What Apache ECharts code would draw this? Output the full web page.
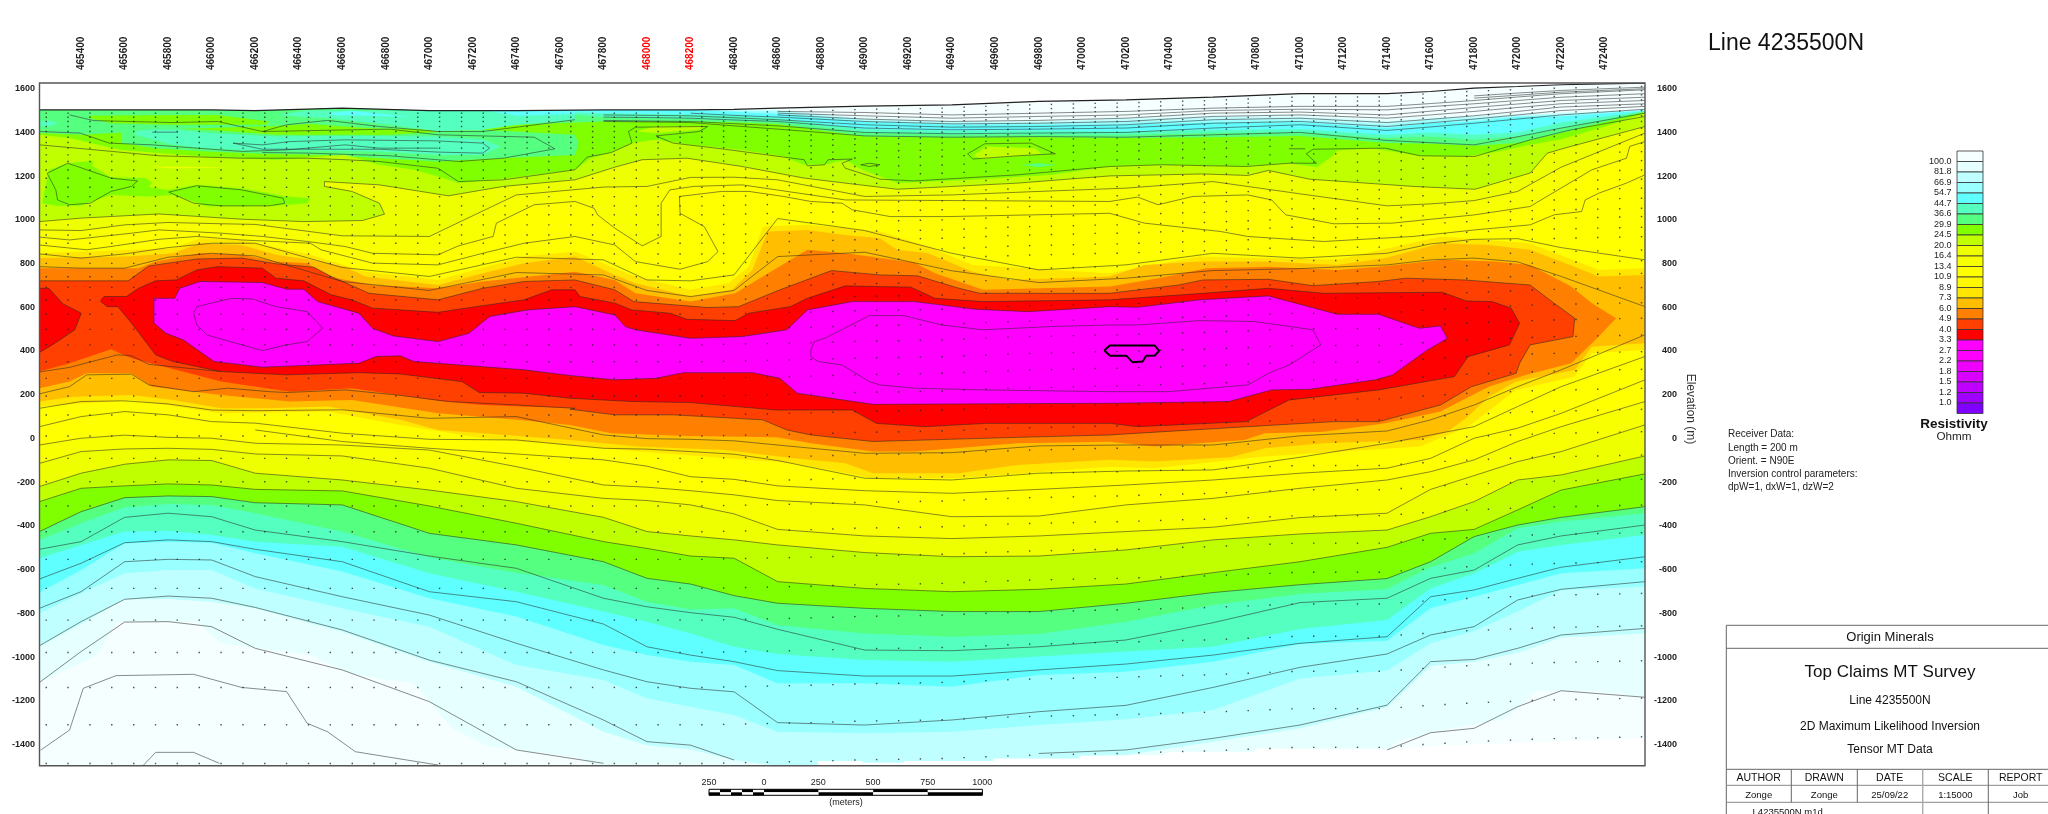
<!DOCTYPE html>
<html>
<head>
<meta charset="utf-8">
<script src="https://cdn.jsdelivr.net/npm/echarts@6/dist/echarts.min.js"></script>
<style>html,body{margin:0;background:#fff}#main{width:2048px;height:814px}</style>
</head>
<body>
<div id="main"></div>
<script>
// eastings (m) of the shared profile columns, elevations (m) below
var columns = [465209,465400,465600,465800,466000,466200,466600,467000,467400,467800,468000,468200,468400,468600,469000,469400,469800,470200,470600,471000,471400,471600,471800,472000,472200,472585];
var eastTicks = [465400,465600,465800,466000,466200,466400,466600,466800,467000,467200,467400,467600,467800,468000,468200,468400,468600,468800,469000,469200,469400,469600,469800,470000,470200,470400,470600,470800,471000,471200,471400,471600,471800,472000,472200,472400];
var redTicks = [468000,468200];
var elevTicks = [1600,1400,1200,1000,800,600,400,200,0,-200,-400,-600,-800,-1000,-1200,-1400];

// upper layers, top of each colour band
var topo  = [1503,1503,1503,1503,1503,1500,1511,1500,1500,1503,1503,1503,1505,1511,1520,1526,1542,1549,1561,1577,1577,1587,1603,1610,1618,1625];
var top82 = [1503,1503,1503,1503,1503,1500,1511,1500,1500,1503,1503,1503,1503,1506,1470,1458,1458,1473,1482,1482,1465,1473,1480,1488,1496,1506];
var top67 = [1503,1503,1503,1503,1503,1500,1511,1500,1500,1503,1503,1503,1503,1502,1461,1450,1450,1461,1470,1470,1450,1465,1473,1480,1488,1503];
var top55 = [1503,1503,1503,1503,1503,1500,1511,1500,1500,1503,1503,1503,1500,1496,1455,1442,1442,1450,1458,1458,1435,1458,1465,1474,1482,1502];
var top45 = [1503,1503,1503,1503,1503,1500,1511,1500,1500,1503,1503,1502,1494,1484,1448,1435,1435,1435,1445,1445,1420,1442,1450,1470,1473,1500];
var top37 = [1503,1503,1503,1503,1503,1500,1511,1500,1500,1488,1484,1482,1476,1465,1415,1407,1409,1404,1412,1415,1389,1400,1389,1400,1445,1498];
var top30 = [1503,1503,1503,1503,1503,1500,1511,1500,1500,1470,1465,1461,1455,1450,1400,1390,1390,1389,1397,1400,1374,1381,1366,1381,1420,1497];
var top25 = [1397,1389,1400,1415,1420,1427,1420,1415,1435,1450,1450,1450,1445,1438,1381,1377,1378,1374,1378,1384,1351,1348,1339,1351,1397,1493];
var limeTop = [[465209,1389],[465347,1374],[465584,1320],[465980,1287],[466296,1275],[466613,1297],[466771,1252],[466929,1229],[467040,1198],[467134,1168],[467372,1191],[467669,1229],[467741,1282],[467836,1308],[467931,1351],[468041,1366],[468200,1343],[468437,1320],[468627,1290],[468722,1252],[468816,1252],[468911,1274],[468990,1229],[469149,1168],[469497,1183],[469860,1206],[470126,1244],[470364,1252],[470752,1244],[470950,1259],[471076,1241],[471147,1290],[471171,1317],[471329,1328],[471551,1293],[471756,1290],[471914,1313],[472057,1343],[472199,1369],[472373,1419],[472585,1488]];

// contour lines of the upper half
var limeLine = [[465209,1343],[465379,1328],[465758,1293],[466138,1282],[466439,1282],[466613,1275],[466771,1267],[467040,1236],[467134,1175],[467340,1183],[467669,1229],[467725,1287],[467836,1308],[467931,1351],[467915,1404],[467947,1424],[468279,1427],[468239,1404],[468041,1384],[468120,1351],[468358,1323],[468627,1287],[468722,1275],[468737,1247],[468816,1252],[468832,1275],[468943,1278],[468896,1259],[468911,1236],[469070,1186],[469228,1178],[469702,1206],[470126,1244],[470364,1252],[470752,1244],[470950,1259],[471076,1259],[471029,1302],[471060,1323],[471392,1328],[471551,1293],[471804,1290],[472057,1366],[472246,1412],[472585,1473]];
var line16 = [[465209,992],[465401,1008],[465758,1027],[466138,1003],[466423,992],[466692,997],[466794,1026],[466771,1076],[466644,1130],[466518,1153],[466518,1175],[466771,1160],[467087,1110],[467340,1153],[467669,1183],[467852,1241],[467978,1275],[468184,1282],[468437,1244],[468722,1191],[468911,1168],[469149,1140],[469702,1168],[470126,1201],[470554,1210],[470760,1203],[470855,1226],[471044,1186],[471519,1153],[471804,1140],[472057,1214],[472136,1305],[472215,1328],[472585,1427]];
var line13 = [954,951,977,988,983,979,927,924,1114,1150,1153,1194,1195,1183,1107,1114,1130,1145,1175,1119,1064,1073,1088,1130,1241,1397];
var line11 = [[465209,921],[465347,908],[465632,939],[465758,954],[466043,939],[466233,924],[466439,901],[466613,878],[466739,847],[467040,840],[467134,881],[467293,924],[467308,985],[467482,1069],[467669,1084],[467757,1053],[467773,1023],[467852,962],[467978,881],[468065,924],[468065,1076],[468105,1137],[468215,1153],[468437,1160],[468595,1137],[468753,1114],[468911,1091],[470126,1084],[470254,1104],[470348,1069],[470507,1107],[470760,1114],[470870,1091],[470934,1023],[471155,982],[471424,985],[471804,1023],[472057,1061],[472341,1229],[472500,1282],[472515,1336],[472585,1358]];
var line9 = [[465209,885],[465426,863],[465537,878],[465758,911],[465932,924],[466138,908],[466454,893],[466502,863],[466739,802],[467040,794],[467245,847],[467435,893],[467669,924],[467852,885],[467947,809],[468152,774],[468279,809],[468326,855],[468263,969],[468152,1030],[468149,1107],[468342,1130],[468468,1130],[468627,1107],[468753,1084],[468896,1076],[468943,1046],[469117,1015],[469386,1015],[470126,1030],[470285,985],[470633,947],[470760,924],[471108,901],[471519,924],[471804,954],[472057,977],[472167,1023],[472294,1038],[472310,1091],[472373,1122],[472500,1168],[472585,1206]];
var line8 = [844,825,844,873,893,893,782,741,829,817,725,721,748,1006,951,847,771,794,847,825,847,890,911,914,873,817];
var line7 = [786,779,779,829,847,835,718,677,759,748,677,649,677,832,852,767,713,733,768,777,794,817,825,808,741,603];
var ln1 = [null,null,null,null,null,null,null,null,null,null,null,null,null,1496,1491,1480,1488,1496,1511,1519,1519,1532,1546,1562,1577,1595];
var ln2 = [null,null,null,null,null,null,null,null,null,null,null,null,null,1488,1476,1465,1473,1480,1500,1506,1503,1518,1531,1546,1561,1577];
var ln3 = [null,null,null,null,null,null,null,null,null,null,null,null,null,1480,1461,1450,1455,1465,1488,1493,1480,1497,1514,1530,1546,1561];
var ln4 = [null,null,null,null,null,null,null,null,null,null,null,1488,1478,1470,1450,1439,1442,1450,1473,1480,1465,1480,1496,1514,1531,1546];
var ln5 = [null,null,null,null,null,null,null,null,null,1480,1478,1476,1467,1458,1435,1424,1427,1435,1458,1465,1445,1460,1476,1496,1516,1531];
var ln6 = [null,null,null,null,null,null,null,null,null,1470,1468,1465,1457,1450,1420,1412,1415,1420,1442,1450,1427,1444,1461,1480,1500,1519];
var ln7 = [null,null,null,null,null,null,null,null,null,1455,1452,1450,1440,1430,1400,1394,1397,1400,1420,1435,1409,1425,1442,1461,1480,1506];
var ln8 = [null,null,null,null,null,null,null,null,null,1450,1448,1445,1430,1415,1384,1378,1381,1378,1389,1400,1363,1353,1343,1380,1420,1488];
var ln9 = [null,null,null,null,null,null,null,null,null,null,null,null,null,null,null,null,null,null,null,null,null,null,1567,1580,1592,1607];
var ln10 = [null,null,null,null,null,null,null,null,null,null,null,null,null,null,null,null,null,null,null,null,null,null,1557,1570,1584,1600];
var t1 = [[465347,1480],[465458,1454],[465822,1445],[466027,1450],[466233,1404],[466344,1435],[466533,1455],[466771,1427],[467040,1404],[467245,1404],[467669,1458]];
var t2 = [[465209,1404],[465395,1397],[465529,1351],[465727,1343],[465932,1328],[466138,1313],[466344,1320],[466613,1343],[466771,1328],[467040,1328]];
var t3 = [[466233,1404],[466818,1415],[467040,1389],[467482,1378],[467577,1325],[467340,1282],[467134,1267],[466818,1293],[466454,1305],[466233,1308]];
var t4 = [[466098,1351],[466233,1343],[466359,1358],[466613,1366],[467040,1361],[467245,1351],[467277,1328],[467245,1305],[467040,1310],[466771,1323],[466359,1323],[466233,1323],[466098,1351]];
var t5 = [[465727,1401],[465845,1401]];
var t6 = [[470949,1325],[471024,1325]];
var loop1 = [[465244,1213],[465339,1259],[465537,1191],[465660,1178],[465632,1153],[465537,1130],[465442,1076],[465347,1069],[465292,1091],[465284,1137],[465244,1213]];
var loop2 = [[465803,1127],[465932,1156],[466138,1137],[466328,1099],[466336,1076],[466265,1064],[466043,1064],[465917,1076],[465803,1127]];
var loop3 = [[468982,1252],[469022,1259],[469070,1252],[469022,1244],[468982,1252]];
var loop4 = [[469473,1302],[469552,1348],[469765,1351],[469876,1302],[469702,1293],[469497,1278],[469473,1302]];

// local patches in the upper half
var patchTealLeft = [[465213,1450],[465252,1455],[465300,1442],[465252,1427],[465213,1427]];
var patchGreen1 = [[465442,1476],[465822,1480],[466027,1480],[466265,1450],[466249,1435],[465822,1435],[465537,1442],[465442,1465]];
var patchGreen2 = [[466249,1427],[466454,1439],[466818,1412],[466771,1389],[466613,1397],[466391,1389],[466249,1412]];
var patchRim = [[465584,1412],[465648,1420],[465980,1412],[466296,1389],[466818,1389],[467245,1412],[467669,1389],[467686,1351],[467669,1297],[467324,1282],[467040,1267],[466771,1282],[466533,1297],[466233,1302],[465980,1313],[465743,1328],[465584,1351]];
var patchBlob = [[465648,1404],[465727,1415],[465853,1412],[465980,1397],[466138,1389],[466296,1381],[466454,1384],[466771,1384],[467040,1381],[467245,1369],[467327,1336],[467245,1297],[467040,1297],[466771,1313],[466454,1317],[466170,1317],[465980,1328],[465822,1343],[465648,1389]];
var patchStrip = [[469718,1252],[469797,1259],[469884,1252],[469797,1241]];
var patchTop = [[466439,1500],[467669,1500],[467669,1458],[467403,1435],[467245,1412],[467040,1404],[466818,1435],[466533,1465],[466296,1480]];
var patchCyan1 = [[466533,1488],[466644,1499],[466913,1470],[466739,1476],[466565,1479]];
var patchCyan2 = [[467261,1499],[467669,1499],[467669,1484],[467403,1476]];
var patchStreak = [[465711,1244],[466106,1241],[465822,1235]];
var patchGreen3 = [[465221,1076],[465252,1229],[465339,1259],[465458,1270],[465450,1247],[465537,1195],[465695,1191],[465727,1171],[465711,1150],[465798,1137],[465932,1160],[466138,1145],[466344,1107],[466454,1099],[466439,1076],[466296,1064],[465980,1061],[465822,1114],[465711,1107],[465537,1114],[465395,1064],[465284,1064]];
var patchLime1 = [[467946,1404],[468041,1427],[468263,1427],[468239,1412],[468041,1397]];
var patchLime2 = [[469497,1293],[469560,1336],[469781,1328],[469813,1302],[469544,1278]];

// conductive body, outer to inner
var band89 = [[465209,847],[465822,870],[465948,916],[466138,908],[466454,840],[466707,763],[467040,725],[467435,832],[467669,855],[467852,779],[467947,741],[468200,680],[468374,710],[468468,786],[468532,969],[468737,977],[469070,947],[469291,878],[469497,794],[470126,756],[470538,832],[471171,817],[471645,924],[472057,893],[472373,771],[472585,779],[472585,405],[472341,390],[472262,283],[471993,222],[471772,54],[471551,-37],[470839,-83],[470333,-136],[470126,-129],[469433,-182],[469038,-182],[468674,-114],[467962,-60],[467646,-30],[467245,1],[466866,62],[466533,123],[466043,115],[465632,176],[465209,146]];
var band73 = [[465209,825],[465616,832],[465822,847],[465948,893],[466138,885],[466296,840],[466454,817],[466613,786],[466707,741],[467040,702],[467245,756],[467435,802],[467669,832],[467852,748],[467947,710],[468200,649],[468389,680],[468484,771],[468555,947],[468737,954],[468911,931],[469070,916],[469149,863],[469291,847],[469497,763],[469670,725],[470126,741],[470285,794],[470538,809],[470855,809],[471171,794],[471392,825],[471645,893],[471867,885],[472057,863],[472262,786],[472373,741],[472585,748],[472585,435],[472341,420],[472262,313],[471993,260],[471867,191],[471772,100],[471677,31],[471551,-7],[471108,-22],[470839,-45],[470681,-86],[470333,-106],[470127,-98],[469702,-121],[469433,-159],[469038,-159],[468911,-114],[468674,-91],[468358,-53],[467962,-37],[467646,-7],[467245,24],[467040,39],[466866,85],[466533,146],[466265,138],[466043,138],[465822,176],[465632,199],[465363,191],[465209,169]];
var band60 = [[465209,779],[465664,779],[465743,809],[465948,847],[466138,840],[466296,809],[466439,802],[466533,741],[466739,702],[467040,687],[467245,718],[467669,763],[467852,725],[467947,664],[468200,626],[468405,664],[468532,741],[468737,863],[468911,847],[469228,805],[469323,756],[469544,680],[470126,695],[470348,733],[470570,779],[470855,786],[471171,771],[471361,786],[471661,817],[471898,809],[472057,794],[472246,695],[472341,619],[472452,550],[472373,466],[472246,344],[472041,291],[471867,237],[471645,123],[471392,69],[471108,31],[470839,24],[470744,-7],[470333,-37],[470127,-15],[469702,-22],[469228,-60],[469038,-60],[468753,-22],[468595,5],[468184,11],[467836,24],[467646,62],[467403,85],[467040,115],[466644,176],[466359,169],[466043,199],[465727,237],[465632,298],[465426,298],[465347,260],[465209,230]];
var band49Top = [[465209,721],[465616,721],[465711,789],[465932,821],[466138,825],[466296,799],[466470,783],[466549,741],[466723,664],[467040,634],[467245,687],[467435,718],[467669,725],[467852,680],[467939,626],[468279,599],[468421,603],[468611,680],[468848,768],[469070,748],[469243,744],[469433,687],[469528,664],[470126,664],[470443,702],[470554,725],[470855,728],[471060,699],[471361,718],[471487,733],[471756,725],[472057,702],[472167,619],[472262,550],[472254,466],[472057,428],[472009,344],[471993,298],[471788,237],[471645,153],[471361,77],[471155,77],[470760,54],[470254,24],[470127,16],[469702,5],[469038,-14],[468753,16],[468642,39],[468532,85],[468120,108],[467852,108],[467646,134]];
var band49Left = [[467669,138],[467245,153],[467040,173],[466644,230],[466359,214],[466043,260],[465632,367],[465537,408],[465347,344],[465209,306]];
var line49Left = [[467669,138],[467403,153],[467087,169],[466850,199],[466613,222],[466344,210],[466265,214],[466075,230],[465917,214],[465711,245],[465632,294],[465426,291],[465347,237],[465209,204]];
var line40Left = [[466043,306],[465711,339],[465632,378],[465569,383],[465347,325],[465209,304]];
var band40 = [[465490,631],[465505,649],[465608,649],[465664,687],[465743,721],[465837,725],[465932,771],[466027,786],[466233,779],[466296,733],[466423,721],[466549,657],[466644,634],[466739,596],[467040,577],[467214,603],[467435,634],[467562,680],[467669,680],[467693,649],[467852,619],[467931,588],[468105,573],[468184,545],[468405,539],[468468,573],[468658,603],[468737,641],[468911,698],[469212,692],[469323,641],[469544,626],[470126,634],[470554,664],[470855,687],[471108,664],[471653,669],[471764,629],[471883,626],[471970,596],[472009,527],[471962,428],[471772,374],[471709,283],[471361,222],[470950,176],[470752,77],[470254,54],[470127,69],[469560,69],[469275,54],[469054,69],[468943,130],[468595,130],[468200,164],[467931,169],[467646,184],[467435,207],[467229,210],[467150,260],[466866,295],[466676,301],[466344,291],[466043,306],[465822,352],[465743,382],[465632,527],[465569,603],[465521,603],[465490,626]];
var band40Edge = [[465209,687],[465252,687],[465316,616],[465401,573],[465371,497],[465268,428],[465209,393]];
var band33 = [[465735,641],[465830,641],[465853,687],[465948,718],[466233,713],[466344,683],[466423,683],[466486,626],[466676,573],[466739,504],[466834,469],[467040,443],[467182,481],[467277,558],[467451,588],[467669,603],[467852,565],[467899,512],[467947,497],[468200,458],[468437,466],[468642,497],[468737,588],[468943,626],[469228,626],[469512,591],[469750,580],[470126,603],[470254,600],[470538,634],[470855,652],[471171,568],[471361,568],[471503,519],[471551,504],[471645,515],[471677,458],[471582,402],[471424,290],[471345,268],[471044,225],[470870,222],[470673,169],[470127,161],[469038,156],[468690,207],[468611,275],[468484,301],[468168,301],[468041,275],[467852,268],[467646,288],[467435,314],[466929,352],[466866,378],[466755,375],[466676,344],[466233,326],[466011,352],[465869,451],[465790,481],[465735,527],[465735,641]];
var inner1 = [[465917,573],[465932,603],[466027,626],[466091,641],[466186,638],[466296,603],[466439,580],[466510,504],[466439,443],[466344,428],[466233,402],[466138,428],[465980,473],[465932,519],[465917,573]];
var inner2 = [[468753,405],[468769,443],[468816,458],[469022,562],[469180,562],[469354,519],[469544,497],[469860,512],[470126,519],[470254,519],[470538,539],[470791,535],[471060,497],[471095,428],[470950,336],[470855,298],[470760,245],[470396,214],[470127,214],[469544,222],[469228,230],[469070,245],[469022,260],[468896,336],[468785,352],[468753,375],[468753,405]];
var blackBlob = [[470101,402],[470126,425],[470333,425],[470353,401],[470333,379],[470293,378],[470277,352],[470230,349],[470203,378],[470127,378],[470101,402]];

// lower half contour lines
var lo0 = [138,169,172,158,130,127,131,92,100,16,-1,-4,-11,-30,-68,-65,-34,-30,-30,12,34,85,153,237,314,474];
var lo1 = [54,100,123,108,77,70,24,-4,-7,-45,-49,-60,-72,-101,-182,-190,-159,-149,-144,-86,-22,16,54,146,237,375];
var lo2 = [null,null,null,null,null,39,-14,-45,-71,-98,-127,-175,-187,-217,-239,-251,-233,-213,-190,-159,-136,-91,1,47,115,268];
var lo3 = [-30,1,15,5,1,-22,-30,-53,-129,-213,-223,-239,-258,-284,-304,-358,-355,-304,-274,-228,-190,-152,-98,-14,54,169];
var lo4 = [-114,-60,-48,-45,-50,-71,-80,-136,-228,-274,-284,-304,-345,-416,-446,-458,-446,-426,-406,-362,-342,-233,-170,-106,-60,62];
var lo5 = [-220,-159,-118,-98,-101,-159,-190,-236,-289,-361,-426,-446,-464,-487,-522,-541,-538,-510,-464,-437,-419,-358,-289,-190,-167,-80];
var lo6 = [-289,-228,-217,-208,-213,-233,-240,-309,-388,-472,-503,-538,-548,-655,-686,-701,-690,-666,-614,-564,-498,-434,-416,-327,-236,-162];
var lo7 = [-426,-335,-271,-263,-266,-294,-304,-434,-487,-564,-640,-666,-719,-754,-777,-792,-792,-754,-705,-669,-641,-564,-449,-396,-361,-312];
var lo8 = [-507,-472,-361,-342,-358,-419,-472,-538,-594,-731,-770,-797,-818,-873,-968,-971,-953,-922,-843,-751,-731,-640,-602,-487,-446,-396];
var lo9 = [-643,-571,-477,-464,-472,-507,-564,-701,-747,-849,-953,-991,-1021,-1062,-1087,-1087,-1059,-1032,-991,-937,-907,-724,-693,-640,-589,-541];
var lo10 = [-777,-701,-564,-553,-556,-632,-724,-808,-937,-1059,-1113,-1143,-1159,-1300,-1311,-1288,-1250,-1221,-1139,-1047,-986,-899,-861,-739,-690,-655];
var lo11 = [-948,-838,-736,-721,-731,-773,-876,-1014,-1113,-1288,-1387,-1403,-1471,null,null,null,-1441,-1425,-1372,-1311,-1220,-1021,-1011,-960,-899,-869];
var lo12 = [-1116,-975,-840,-838,-861,-960,-1059,-1204,-1425,-1486,null,null,null,null,null,null,null,null,null,null,-1425,-1346,-1326,-1227,-1154,-1184];
var loK = [[465214,-1426],[465347,-1334],[465410,-1143],[465561,-1085],[465917,-1079],[466138,-1139],[466344,-1158],[466439,-1303],[466533,-1342],[466660,-1433],[467040,-1494]];
var loS = [[465687,-1494],[465743,-1436],[465917,-1436],[466035,-1486]];

// lower half, top of each colour band
var low37 = [-464,-388,-315,-300,-304,-342,-426,-544,-614,-670,-747,-782,-777,-853,-892,-907,-895,-838,-762,-712,-689,-589,-525,-411,-380,-342];
var low45 = [-548,-487,-426,-422,-442,-472,-495,-617,-701,-792,-838,-892,-953,-986,-1014,-1021,-998,-975,-953,-872,-831,-686,-617,-518,-487,-442];
var low55 = [-704,-602,-480,-472,-477,-525,-609,-731,-815,-945,-991,-1021,-1036,-1120,-1120,-1136,-1082,-1067,-1021,-940,-925,-777,-724,-670,-617,-594];
var low67 = [-800,-708,-617,-602,-602,-686,-777,-861,-1036,-1105,-1189,-1227,-1265,-1342,-1349,-1342,-1311,-1285,-1242,-1098,-1062,-937,-881,-792,-693,-678];
var low82 = [-953,-849,-736,-734,-747,-777,-884,-1021,-1136,-1342,-1403,-1422,-1471,-1497,-1497,-1497,-1497,-1448,-1387,-1326,-1230,-1041,-1021,-980,-910,-892];
var low100Left = [[465209,-1116],[465474,-991],[465561,-840],[465932,-838],[466043,-937],[466454,-991],[466644,-1079],[466929,-1120],[467103,-1326],[467277,-1410],[467669,-1456],[467757,-1494],[467757,-1497],[465209,-1497]];
var low100Right = [[471408,-1418],[471456,-1383],[471645,-1337],[471946,-1281],[472088,-1154],[472341,-1154],[472585,-1184],[472585,-1497],[471408,-1497]];
var meshBottom = [[468690,-1497],[468785,-1497],[468785,-1476],[468990,-1476],[468990,-1484],[469180,-1484],[469180,-1476],[469591,-1476],[469591,-1464],[469987,-1464],[469987,-1451],[470364,-1448],[470412,-1433],[470791,-1433],[470799,-1418],[471408,-1422],[471709,-1403],[472585,-1372],[472585,-1497]];

// inversion mesh: surface under each station, node depths below it
var stationE = [465240,465340,465441,465541,465642,465742,465842,465943,466043,466144,466244,466344,466445,466545,466646,466746,466846,466947,467047,467148,467248,467348,467449,467549,467650,467750,467850,467951,468051,468152,468252,468352,468453,468553,468654,468754,468854,468955,469055,469156,469256,469356,469457,469557,469658,469758,469858,469959,470059,470160,470260,470360,470461,470561,470662,470762,470862,470963,471063,471164,471264,471364,471465,471565,471666,471766,471866,471967,472067,472168,472268,472368,472469,472569];
var stationTop = [1503,1503,1503,1503,1503,1503,1503,1503,1503,1503,1503,1503,1503,1503,1503,1503,1503,1503,1503,1503,1503,1503,1503,1503,1503,1503,1503,1503,1503,1503,1503,1505,1507,1509,1511,1513,1516,1519,1521,1522,1524,1526,1530,1534,1538,1541,1543,1545,1548,1549,1552,1555,1558,1560,1564,1568,1572,1576,1577,1577,1577,1577,1583,1590,1596,1602,1606,1610,1614,1617,1619,1621,1623,1625];
var nodeDepth = [15,34,53,76,99,125,149,175,206,236,275,313,354,397,439,480,526,572,610,659,702,763,812,870,935,1004,1075,1152,1228,1309,1396,1492,1594,1701,1812,1930,2056,2189,2334,2482,2642,2813,2990];

// resistivity scale
var legendLabels = ['100.0','81.8','66.9','54.7','44.7','36.6','29.9','24.5','20.0','16.4','13.4','10.9','8.9','7.3','6.0','4.9','4.0','3.3','2.7','2.2','1.8','1.5','1.2','1.0'];
var legendColors = ['#F5FFFF','#E6FFFF','#BFFFFF','#99FFFF','#5FFFFF','#55FFC0','#55FF7F','#7FFF00','#BFFF00','#EEFF00','#F8FF00','#FFFF00','#FFF800','#FFE600','#FFBF00','#FF7F00','#FF4000','#FF0000','#FF00FF','#FF00FF','#F000FF','#D800FF','#BF00FF','#A000FF','#7F00FF'];

var XMIN = 465209, XMAX = 472585, YMIN = -1497, YMAX = 1626;

function zip(values) {
    return values.map(function (v, i) { return [columns[i], v]; });
}
function below(curve) {
    return curve.concat([[XMAX, YMIN], [XMIN, YMIN]]);
}

// painter's order: every polygon covers what came before it
var fills = [
    { c: '#F5FFFF', p: below(zip(topo)) },
    { c: '#E6FFFF', p: below(zip(top82)) },
    { c: '#BFFFFF', p: below(zip(top67)) },
    { c: '#99FFFF', p: below(zip(top55)) },
    { c: '#5FFFFF', p: below(zip(top45)) },
    { c: '#55FFC0', p: below(zip(top37)) },
    { c: '#55FF7F', p: below(zip(top30)) },
    { c: '#7FFF00', p: below(zip(top25)) },
    { c: '#55FF7F', p: patchRim },
    { c: '#55FFC0', p: patchBlob },
    { c: '#55FFC0', p: patchTealLeft },
    { c: '#55FFC0', p: patchTop },
    { c: '#7FFF00', p: patchGreen1 },
    { c: '#7FFF00', p: patchGreen2 },
    { c: '#5FFFFF', p: patchCyan1 },
    { c: '#5FFFFF', p: patchCyan2 },
    { c: '#55FF7F', p: patchStrip },
    { c: '#BFFF00', p: below(limeTop) },
    { c: '#BFFF00', p: patchLime1 },
    { c: '#BFFF00', p: patchLime2 },
    { c: '#7FFF00', p: patchGreen3 },
    { c: '#EEFF00', p: patchStreak },
    { c: '#EEFF00', p: below(line16) },
    { c: '#F8FF00', p: below(zip(line13)) },
    { c: '#FFFF00', p: below(line11) },
    { c: '#F8FF00', p: below(zip(lo3)) },
    { c: '#EEFF00', p: below(zip(lo4)) },
    { c: '#BFFF00', p: below(zip(lo5)) },
    { c: '#7FFF00', p: below(zip(lo6)) },
    { c: '#55FF7F', p: below(zip(lo7)) },
    { c: '#55FFC0', p: below(zip(low37)) },
    { c: '#5FFFFF', p: below(zip(low45)) },
    { c: '#99FFFF', p: below(zip(low55)) },
    { c: '#BFFFFF', p: below(zip(low67)) },
    { c: '#E6FFFF', p: below(zip(low82)) },
    { c: '#F5FFFF', p: low100Left },
    { c: '#F5FFFF', p: low100Right },
    { c: '#FFFFFF', p: meshBottom },
    { c: '#FFE600', p: band89 },
    { c: '#FFBF00', p: band73 },
    { c: '#FF7F00', p: band60 },
    { c: '#FF4000', p: band49Top.concat(band49Left) },
    { c: '#FF0000', p: band40 },
    { c: '#FF0000', p: band40Edge },
    { c: '#FF00FF', p: band33 }
];

function lineSeries(points, width, color) {
    return {
        type: 'line', data: points, symbol: 'none', silent: true, z: 3, clip: true,
        lineStyle: { color: color || 'rgba(40,40,40,0.68)', width: width || 0.8 }
    };
}

var columnLines = [line13, line8, line7, ln1, ln2, ln3, ln4, ln5, ln6, ln7, ln8, ln9, ln10, lo0, lo1, lo2, lo3, lo4, lo5, lo6, lo7, lo8, lo9, lo10, lo11, lo12];
var pairLines = [limeLine, line16, line11, line9, t1, t2, t3, t4, loop1, loop2, loop3, loop4, band49Top.concat(line49Left), line40Left, band40, band40Edge, band33, inner1, inner2, loK, loS, t5, t6];

var meshNodes = [];
stationE.forEach(function (e, i) {
    nodeDepth.forEach(function (d) {
        meshNodes.push([e, stationTop[i] - d]);
    });
});

// legend, title block and scale bar
var graphics = [];
function txt(x, y, s, size, opts) {
    opts = opts || {};
    graphics.push({
        type: 'text', x: x, y: y, rotation: opts.rot || 0, silent: true, z: 20,
        style: {
            text: s, fontFamily: 'Liberation Sans', fontSize: size, fontWeight: opts.w || 'normal',
            fill: opts.fill || '#111', align: opts.align || 'center', verticalAlign: 'middle'
        }
    });
}
function ln(x1, y1, x2, y2, color, width) {
    graphics.push({
        type: 'line', silent: true, z: 20, shape: { x1: x1, y1: y1, x2: x2, y2: y2 },
        style: { stroke: color || '#666', lineWidth: width || 1 }
    });
}
function box(x, y, w, h, fill, stroke, width) {
    graphics.push({
        type: 'rect', silent: true, z: 20, shape: { x: x, y: y, width: w, height: h },
        style: { fill: fill, stroke: stroke || null, lineWidth: width || 1 }
    });
}

box(39.5, 83, 1605.5, 682.7, 'transparent', '#555', 1.4);

txt(1708, 44, 'Line 4235500N', 23, { align: 'left' });
txt(1690, 409, 'Elevation (m)', 12, { rot: -Math.PI / 2, fill: '#333' });

legendColors.forEach(function (c, i) {
    box(1957, 151 + i * 10.5, 26, 10.5, c, '#333', 0.8);
});
legendLabels.forEach(function (s, i) {
    txt(1951.5, 161.5 + i * 10.5, s, 9, { align: 'right', fill: '#222' });
});
txt(1954, 424, 'Resistivity', 13.5, { w: 'bold' });
txt(1954, 437, 'Ohmm', 11.7, { fill: '#222' });

['Receiver Data:', 'Length = 200 m', 'Orient. = N90E', 'Inversion control parameters:', 'dpW=1, dxW=1, dzW=2'].forEach(function (s, i) {
    txt(1728, 434.7 + i * 13.1, s, 10, { align: 'left', fill: '#222' });
});

// scale bar
[0, 1, 2, 3, 4].forEach(function (i) {
    box(709 + i * 11, 789.3, 11, 3, i % 2 ? '#000' : '#fff');
    box(709 + i * 11, 792.3, 11, 3, i % 2 ? '#fff' : '#000');
});
[0, 1, 2, 3].forEach(function (i) {
    box(764 + i * 54.6, 789.3, 54.6, 3, i % 2 ? '#fff' : '#000');
    box(764 + i * 54.6, 792.3, 54.6, 3, i % 2 ? '#000' : '#fff');
});
box(709, 789.3, 273.4, 6, 'transparent', '#000', 1);
[['250', 709], ['0', 764], ['250', 818.3], ['500', 873], ['750', 927.7], ['1000', 982.3]].forEach(function (m) {
    txt(m[1], 782.7, m[0], 9, { fill: '#222' });
});
txt(846, 803, '(meters)', 9, { fill: '#222' });

// title block
ln(1726.3, 625.3, 2048, 625.3);
ln(1726.3, 625.3, 1726.3, 814);
ln(1726.3, 648.3, 2048, 648.3);
ln(1726.3, 769.3, 2048, 769.3);
ln(1726.3, 785.3, 2048, 785.3, '#888');
ln(1726.3, 802.3, 2048, 802.3, '#888');
ln(1791.3, 769.3, 1791.3, 802.3);
ln(1857.3, 769.3, 1857.3, 802.3);
ln(1922.7, 769.3, 1922.7, 814, '#aaa', 1.4);
ln(1988.3, 769.3, 1988.3, 814);
txt(1890, 637.3, 'Origin Minerals', 13);
txt(1890, 672.7, 'Top Claims MT Survey', 17);
txt(1890, 700.3, 'Line 4235500N', 12);
txt(1890, 726.7, '2D Maximum Likelihood Inversion', 12);
txt(1890, 749.7, 'Tensor MT Data', 12);
[['AUTHOR', 'Zonge', 1758.7], ['DRAWN', 'Zonge', 1824.3], ['DATE', '25/09/22', 1889.7], ['SCALE', '1:15000', 1955.3], ['REPORT', 'Job', 2020.7]].forEach(function (r) {
    txt(r[2], 777.7, r[0], 10.5);
    txt(r[2], 795, r[1], 9.5);
});
txt(1787.7, 812.5, 'L4235500N.m1d', 9.5);

var myChart = echarts.init(document.getElementById('main'));

var yLabel = {
    fontFamily: 'Liberation Sans', fontSize: 9, fontWeight: 'bold', color: '#222', customValues: elevTicks,
    formatter: function (v) { return String(v); }
};

var option = {
    animation: false,
    backgroundColor: '#fff',
    grid: { left: 39.5, top: 83, width: 1605.5, height: 682.7, show: false },
    xAxis: {
        type: 'value', position: 'top', min: XMIN, max: XMAX, scale: true,
        axisLine: { show: false }, axisTick: { show: false }, splitLine: { show: false },
        axisLabel: {
            customValues: eastTicks, rotate: 90, margin: 13, fontFamily: 'Liberation Sans', fontSize: 10, fontWeight: 'bold',
            formatter: function (v) { return String(v); },
            color: function (v) { return redTicks.indexOf(Number(v)) >= 0 ? '#f00' : '#222'; }
        }
    },
    yAxis: [
        {
            type: 'value', min: YMIN, max: YMAX, position: 'left', scale: true,
            axisLine: { show: false }, axisTick: { show: false }, splitLine: { show: false },
            axisLabel: Object.assign({ margin: 4.5 }, yLabel)
        },
        {
            type: 'value', min: YMIN, max: YMAX, position: 'right', scale: true,
            axisLine: { show: false }, axisTick: { show: false }, splitLine: { show: false },
            axisLabel: Object.assign({ margin: 32, align: 'right' }, yLabel)
        }
    ],
    graphic: graphics,
    series: [
        {
            type: 'custom', silent: true, z: 1, clip: true,
            data: fills.map(function (f, i) { return [i]; }),
            renderItem: function (params, api) {
                var f = fills[api.value(0)];
                return {
                    type: 'polygon',
                    shape: { points: f.p.map(function (pt) { return api.coord(pt); }) },
                    style: { fill: f.c, stroke: null }
                };
            }
        }
    ].concat(
        columnLines.map(function (a) { return lineSeries(zip(a)); }),
        pairLines.map(function (a) { return lineSeries(a); }),
        [lineSeries(zip(topo), 1.2, '#222'), lineSeries(blackBlob, 2, '#000')],
        [{
            type: 'scatter', data: meshNodes, symbol: 'rect', symbolSize: 1.4, silent: true, z: 4,
            itemStyle: { color: '#222' }, large: false
        }]
    )
};

myChart.setOption(option);
</script>
</body>
</html>
